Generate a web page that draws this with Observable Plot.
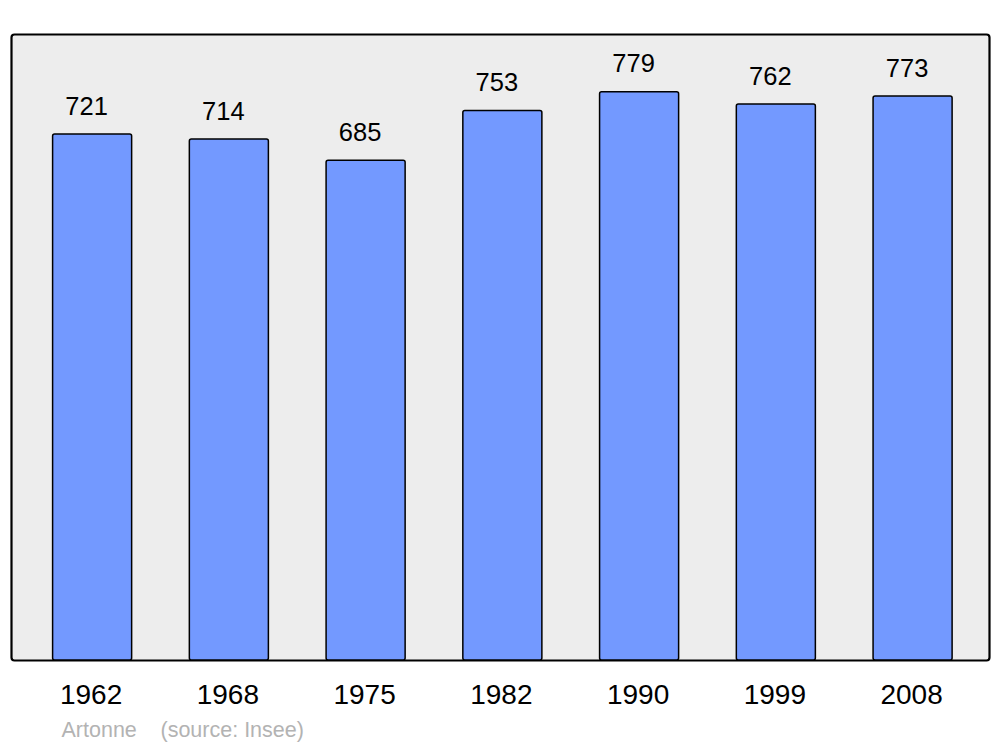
<!DOCTYPE html>
<html>
<head>
<meta charset="utf-8">
<script src="https://cdn.jsdelivr.net/npm/d3@7"></script>
<script src="https://cdn.jsdelivr.net/npm/@observablehq/plot@0.6"></script>
<style>
  html, body { margin: 0; padding: 0; background: white; }
</style>
</head>
<body>
<div id="chart"></div>
<script>
const years = ["1962", "1968", "1975", "1982", "1990", "1999", "2008"];
const population = [721, 714, 685, 753, 779, 762, 773];
const communeName = "Artonne";
const sourceText = "(source: Insee)";

const data = years.map((year, i) => ({year, pop: population[i]}));

const chart = Plot.plot({
  width: 1000,
  height: 747,
  marginTop: 34,
  marginBottom: 87,
  marginLeft: 11,
  marginRight: 11,
  style: {fontFamily: "'Liberation Sans', Arial, sans-serif", background: "white"},
  x: {domain: years, paddingInner: 0.422, paddingOuter: 0.287, align: 0.53, round: false, label: null},
  y: {domain: [0, 858], axis: null},
  marks: [
    Plot.frame({fill: "#ededed", stroke: "black", strokeWidth: 2.2, rx: 3}),
    Plot.barY(data, {x: "year", y: "pop", fill: "#7399ff", stroke: "black", strokeWidth: 1.5, rx: 2}),
    Plot.text(data, {x: "year", y: "pop", text: d => String(d.pop), dx: -6, dy: -28, fontSize: 25.5, fill: "black"}),
    Plot.axisX({tickSize: 0, tickPadding: 24, dx: -1.5, fontSize: 28, color: "black", label: null}),
    Plot.text([communeName], {frameAnchor: "bottom-left", lineAnchor: "middle", dx: 50, dy: 70, text: d => d, textAnchor: "start", fontSize: 21.5, fill: "#b3b3b3"}),
    Plot.text([sourceText], {frameAnchor: "bottom-left", lineAnchor: "middle", dx: 149, dy: 70, text: d => d, textAnchor: "start", fontSize: 21.5, fill: "#b3b3b3"})
  ]
});
document.getElementById("chart").appendChild(chart);
</script>
</body>
</html>
